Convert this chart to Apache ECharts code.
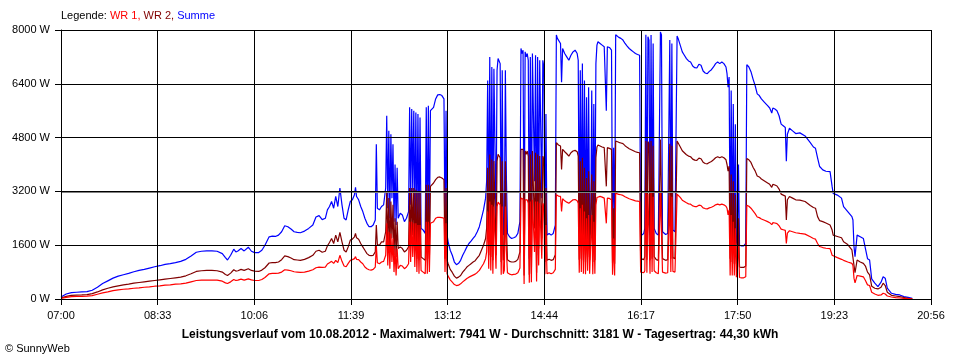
<!DOCTYPE html>
<html><head><meta charset="utf-8">
<script src="https://cdn.jsdelivr.net/npm/echarts@6/dist/echarts.min.js"></script>
<style>html,body{margin:0;padding:0;background:#fff}#c{width:960px;height:360px}</style>
</head><body><div id="c"></div>
<script>
// x tick labels (axis spans 07:00 .. 20:56 = 836 minutes, 9 equal intervals)
const xTickLabels = ['07:00','08:33','10:06','11:39','13:12','14:44','16:17','17:50','19:23','20:56'];
const spanMinutes = 836;
const yMax = 8000, yStep = 1600;
const average = 3181;
const legendNames = ['WR 1', 'WR 2', 'Summe'];
const titleText = 'Leistungsverlauf vom 10.08.2012 - Maximalwert: 7941 W - Durchschnitt: 3181 W - Tagesertrag: 44,30 kWh';

// minutes after 07:00
const minutes = [
0,5,10,15,20,25,30,35,40,45,
50,55,60,65,70,75,80,85,90,95,
100,105,110,115,120,125,130,135,140,145,
150,155,158,160,163,166,168,170,173,176,
180,183,186,190,193,196,200,203,206,209,
212,215,218,221,224,227,230,234,238,242,
245,248,251,254,256,258,260,262,264,266,
268,270,272,274,276,278,280,282,283,284,
286,288,290,292,294,296,298,300,302,303,
304,306,308,310,312,313,314,315,316,317,
318,319,320,321,322,323,324,326,328,330,
332,334,335,336,337,338,339,340,341,342,
343,344,345,346,348,350,351,352,353,354,
355,356,358,360,362,364,366,368,369,370,
371,372,374,376,378,380,382,384,386,388,
390,392,394,396,398,400,402,404,406,408,
409,410,411,412,413,414,415,416,417,418,
419,420,421,422,423,424,425,426,427,428,
429,431,433,435,437,439,441,442,443,444,
445,446,447,448,449,450,451,452,453,454,
455,456,457,458,459,460,461,462,463,464,
465,466,467,469,471,473,475,476,477,478,
480,481,482,484,486,488,490,492,494,496,
497,498,499,500,501,502,503,504,505,506,
507,508,509,510,511,512,513,514,515,516,
518,520,522,523,524,525,527,529,530,531,
532,533,534,536,538,540,542,544,546,548,
550,552,554,556,557,558,560,561,562,563,
564,565,566,567,568,569,570,572,574,576,
577,578,579,581,583,585,586,587,588,590,
592,593,595,597,599,601,603,605,607,609,
611,613,615,617,619,621,623,625,627,629,
631,633,635,637,639,640,641,642,643,644,
645,646,647,648,649,650,651,652,654,656,
658,659,661,663,665,667,669,671,673,676,
679,681,683,684,686,688,690,692,694,696,
697,698,700,703,706,710,715,720,723,725,
727,729,732,735,739,741,742,746,750,752,
756,760,761,762,763,765,768,771,773,775,
777,779,782,785,788,790,792,794,798,802,
806,810,814,818
];

// Summe (W)
const summe = [
60,150,190,200,210,220,260,350,460,540,
620,680,720,760,810,850,880,920,960,990,
1030,1050,1080,1120,1180,1280,1390,1420,1430,1430,
1420,1350,1230,1160,1300,1480,1400,1430,1500,1430,
1540,1420,1380,1380,1450,1600,1850,1870,1860,1900,
2000,2180,2150,2080,2000,1980,1970,2020,2100,2200,
2440,2480,2360,2400,2650,2750,2900,2700,3050,2750,
3300,2800,2400,2350,2650,2900,2950,3100,3320,3050,
2950,2750,2600,2400,2250,2150,2150,2200,2350,4600,
2700,2650,2750,2800,3300,5450,2700,5000,2400,4900,
3000,4600,2300,4000,2200,3900,2400,2550,2500,2300,
2400,2600,5700,2800,5650,3200,5600,2400,5550,2000,
5500,1950,5400,2100,2050,1950,5700,1900,5750,2000,
5600,5600,5700,5950,6070,6080,6050,5950,2000,5600,
1900,1700,1450,1300,1100,1020,1060,1150,1300,1420,
1550,1650,1720,1800,1880,2000,2150,2400,2650,3000,
3500,6500,2200,7200,2100,6900,1900,6850,6900,2200,
6800,7150,7100,7000,1800,6800,1900,2100,6800,3600,
1950,1850,1800,1820,1850,1950,2300,7450,7300,7400,
1150,7350,7200,7300,7100,1200,7200,1250,7300,7350,
3500,7250,1300,7200,2500,7100,7150,3000,7100,6900,
1850,5500,1900,1950,1900,1950,2200,7850,7750,7700,
7600,6450,7450,7300,7200,7100,7250,7350,7400,7300,
7100,1950,6800,2000,7000,1900,6500,1850,6000,2100,
6300,1900,2000,6200,1850,5800,1900,7000,7550,7650,
7600,7550,7500,7550,5600,7500,7480,7400,1800,4500,
1750,7860,7820,7780,7750,7700,7600,7520,7450,7400,
7350,7300,7270,7250,2000,1900,1950,2100,7860,1950,
7800,7700,1900,7850,2000,7600,2100,1950,1900,7940,
7850,2000,1950,1920,1950,7700,2000,7600,2050,2000,
7820,7750,7550,7350,7250,7150,7080,7050,6930,6880,
6870,6980,6950,6780,6720,6700,6770,6820,6900,7000,
7050,7000,7050,7000,6900,6700,6300,6600,1900,6200,
1800,5800,1750,5200,1700,1600,4000,1600,1580,1580,
1650,6970,6900,6760,6540,6350,6100,6050,5950,5850,
5750,5680,5530,5680,5650,5600,5450,5200,5150,5100,
4100,4900,5080,5000,4920,4940,4850,4650,4520,4480,
4200,3940,3840,3800,3790,3340,3140,3090,3000,2750,
2600,2450,2350,1560,1260,1900,1850,1800,1500,1200,
1160,600,470,370,500,660,620,320,170,140,
120,70,50,20
];

// WR 2 (W)
const wr2 = [
30,80,110,115,120,130,160,210,270,320,
360,390,420,440,470,490,510,530,550,570,
590,610,630,650,690,750,820,840,850,850,
840,800,730,700,770,870,830,840,880,850,
900,850,830,820,860,930,1070,1080,1080,1100,
1170,1280,1260,1220,1170,1160,1150,1180,1230,1300,
1420,1450,1390,1420,1580,1680,1800,1650,1900,1700,
1980,1700,1450,1400,1550,1750,1780,1850,1950,1820,
1780,1650,1550,1450,1350,1300,1290,1300,1400,2200,
1620,1600,1700,1700,2000,3200,1600,3000,1400,2900,
1800,2800,1300,2400,1250,2300,1500,1550,1500,1400,
1450,1550,3300,1700,3300,1900,3300,1450,3250,1200,
3200,1150,3200,1250,1200,1150,3400,1150,3400,1200,
3350,3350,3450,3550,3620,3630,3600,3550,1200,3300,
1150,1050,880,790,680,620,650,700,800,870,
950,1000,1050,1100,1140,1220,1300,1450,1600,1800,
2100,3900,1300,4300,1250,4150,1150,4100,4150,1300,
4100,4300,4250,4200,1100,4100,1150,1250,4100,2150,
1170,1120,1100,1100,1120,1180,1400,4450,4400,4450,
700,4400,4300,4400,4250,720,4300,750,4400,4400,
2100,4350,780,4300,1500,4250,4280,1800,4250,4150,
1100,3300,1150,1180,1150,1170,1320,4650,4600,4580,
4550,3850,4450,4380,4320,4250,4350,4400,4420,4380,
4250,1170,4100,1200,4200,1150,3900,1100,3600,1250,
3800,1150,1200,3700,1100,3500,1150,4200,4520,4580,
4550,4520,4500,4520,3350,4500,4480,4450,1080,2700,
1050,4700,4680,4660,4640,4620,4560,4510,4470,4440,
4410,4380,4360,4350,1200,1150,1170,1260,4700,1170,
4680,4620,1150,4700,1200,4560,1260,1170,1150,4740,
4710,1200,1170,1150,1170,4620,1200,4560,1230,1200,
4700,4650,4530,4410,4350,4290,4250,4230,4160,4130,
4120,4190,4170,4070,4030,4020,4060,4090,4140,4200,
4230,4200,4230,4200,4140,4000,3800,3950,1200,3700,
1100,3500,1050,3100,1050,950,2400,950,940,940,
980,4180,4140,4060,3920,3810,3660,3630,3570,3510,
3450,3410,3320,3410,3390,3360,3270,3120,3090,3060,
2350,2950,3050,3000,2950,2940,2900,2780,2720,2700,
2450,2330,2300,2260,2200,2050,1900,1860,1820,1700,
1620,1460,1420,1000,780,1160,1100,1060,980,800,
720,380,320,300,350,470,400,200,110,90,
70,45,20,10
];

// WR 1 (W)
const wr1 = [
20,50,70,75,80,85,100,140,180,210,
250,270,290,300,320,330,350,360,380,390,
410,420,440,450,470,510,550,560,560,560,
560,530,480,460,510,580,550,560,590,560,
600,570,550,550,580,640,750,760,760,770,
800,870,860,840,810,800,790,800,830,870,
930,950,940,950,1040,1080,1120,1060,1150,1080,
1300,1120,980,960,1060,1150,1170,1200,1260,1180,
1170,1100,1050,950,900,870,860,880,950,1600,
1080,1050,1100,1120,1300,2250,1000,2000,900,1950,
1100,1800,800,1500,700,1500,900,1000,980,900,
950,1050,2300,1100,2300,1250,2250,950,2250,800,
2200,750,2200,850,800,750,2300,750,2300,800,
2250,2250,2300,2400,2430,2430,2420,2400,800,2250,
750,680,570,500,430,400,410,450,510,560,
610,650,680,710,740,790,850,950,1050,1200,
1400,2600,900,2900,850,2800,750,2750,2800,900,
2750,2880,2850,2800,720,2750,750,850,2750,1450,
780,740,720,730,740,780,920,3000,2950,2970,
450,2950,2900,2950,2850,480,2900,500,2950,2950,
1400,2900,520,2900,1000,2850,2870,1200,2850,2750,
740,2200,750,780,750,780,880,3100,3080,3060,
3050,2600,2980,2920,2880,2850,2900,2950,2960,2920,
2850,780,2700,800,2800,750,2600,740,2400,840,
2500,750,800,2500,740,2300,750,2800,3020,3070,
3050,3030,3000,3030,2250,3000,2990,2950,720,1800,
700,3150,3130,3110,3100,3080,3040,3010,2980,2960,
2940,2920,2910,2900,800,750,780,840,3150,780,
3120,3080,750,3150,800,3040,840,780,750,3160,
3140,800,780,770,780,3080,800,3040,820,800,
3120,3100,3020,2940,2900,2860,2830,2820,2770,2750,
2750,2790,2780,2710,2690,2680,2710,2730,2760,2800,
2820,2800,2820,2800,2760,2700,2500,2650,700,2500,
700,2300,700,2100,650,640,1600,640,630,630,
660,2790,2760,2700,2620,2540,2440,2420,2380,2340,
2300,2270,2210,2270,2260,2240,2180,2080,2060,2040,
1650,1960,2030,2000,1970,1950,1930,1850,1800,1780,
1650,1560,1530,1510,1500,1300,1250,1230,1180,1150,
1100,1060,1000,620,480,700,680,660,550,420,
400,200,150,110,120,170,150,90,60,40,
30,20,15,5
];

const toPairs = vals => minutes.map((m, i) => [m, vals[i]]);
const FONT = 'Arial, "Liberation Sans", sans-serif';
const xInterval = spanMinutes / (xTickLabels.length - 1);

const chart = echarts.init(document.getElementById('c'), null, {renderer: 'canvas'});
chart.setOption({
  animation: false,
  backgroundColor: '#ffffff',
  grid: {left: 61, right: 29, top: 30, bottom: 61, containLabel: false},
  xAxis: {
    type: 'value', min: 0, max: spanMinutes, interval: xInterval, z: 10,
    axisLine: {show: true, lineStyle: {color: '#000', width: 1}},
    axisTick: {show: true, length: 6, lineStyle: {color: '#000'}},
    splitLine: {show: true, lineStyle: {color: '#000', width: 1}},
    axisLabel: {
      color: '#000', fontSize: 11, fontFamily: FONT, margin: 11, showMaxLabel: true, showMinLabel: true,
      formatter: v => xTickLabels[Math.round(v / xInterval)] || ''
    }
  },
  yAxis: {
    type: 'value', min: 0, max: yMax, interval: yStep, z: 10,
    axisLine: {show: true, lineStyle: {color: '#000', width: 1}},
    axisTick: {show: true, length: 6, lineStyle: {color: '#000'}},
    splitLine: {show: true, lineStyle: {color: '#000', width: 1}},
    axisLabel: {color: '#000', fontSize: 11, fontFamily: FONT, margin: 11, formatter: v => String(v) + ' W'}
  },
  series: [
    {
      name: legendNames[2], type: 'line', data: toPairs(summe), showSymbol: false, silent: true,
      lineStyle: {color: '#0000ff', width: 1.2}, itemStyle: {color: '#0000ff'},
      markLine: {
        silent: true, symbol: 'none', label: {show: false}, z: 5,
        lineStyle: {color: '#808080', width: 2, type: 'solid'},
        data: [{yAxis: average}]
      }
    },
    {
      name: legendNames[1], type: 'line', data: toPairs(wr2), showSymbol: false, silent: true,
      lineStyle: {color: '#800000', width: 1.2}, itemStyle: {color: '#800000'}
    },
    {
      name: legendNames[0], type: 'line', data: toPairs(wr1), showSymbol: false, silent: true,
      lineStyle: {color: '#ff0000', width: 1.2}, itemStyle: {color: '#ff0000'}
    }
  ],
  graphic: [
    {
      type: 'text', left: 61, top: 10,
      style: {
        text: '{k|Legende: }{a|' + legendNames[0] + ', }{b|' + legendNames[1] + ', }{c|' + legendNames[2] + '}',
        font: '11px ' + FONT,
        rich: {
          k: {fill: '#000', font: '11px ' + FONT},
          a: {fill: '#ff0000', font: '11px ' + FONT},
          b: {fill: '#800000', font: '11px ' + FONT},
          c: {fill: '#0000ff', font: '11px ' + FONT}
        }
      }
    },
    {
      type: 'text', left: 'center', top: 329,
      style: {text: titleText, fill: '#000', font: 'bold 12px ' + FONT}
    },
    {
      type: 'text', left: 5, top: 343,
      style: {text: '\u00a9 SunnyWeb', fill: '#000', font: '11px ' + FONT}
    }
  ]
});
</script>
</body></html>
